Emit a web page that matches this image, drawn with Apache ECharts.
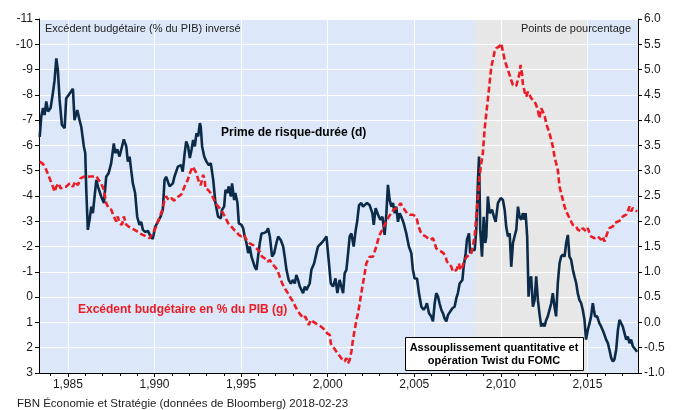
<!DOCTYPE html>
<html>
<head>
<meta charset="utf-8">
<script src="https://cdn.jsdelivr.net/npm/echarts@6/dist/echarts.min.js"></script>
<style>
  html, body { margin: 0; padding: 0; background: #fff; }
  #chart { width: 676px; height: 410px; }
</style>
</head>
<body>
<div id="chart"></div>
<script>
// x axis labels / ticks
const yearLabels = [1985, 1990, 1995, 2000, 2005, 2010, 2015];
const yearTicks = [1984, 1985, 1986, 1987, 1988, 1989, 1990, 1991, 1992, 1993, 1994, 1995, 1996,
  1997, 1998, 1999, 2000, 2001, 2002, 2003, 2004, 2005, 2006, 2007, 2008, 2009, 2010, 2011,
  2012, 2013, 2014, 2015, 2016, 2017];
const qeBand = [2008.5, 2014.92];

// Prime de risque-durée (points de %, axe de droite)
const termYears = [1983.37, 1983.46, 1983.56, 1983.65, 1983.75, 1983.85, 1984.00, 1984.13, 1984.23, 1984.33,
  1984.42, 1984.52, 1984.65, 1984.81, 1984.90, 1985.00, 1985.19, 1985.29, 1985.38, 1985.54,
  1985.67, 1985.77, 1985.92, 1986.00, 1986.06, 1986.15, 1986.25, 1986.35, 1986.44, 1986.54,
  1986.64, 1986.73, 1986.92, 1987.08, 1987.21, 1987.35, 1987.50, 1987.65, 1987.73, 1987.85,
  1987.98, 1988.08, 1988.23, 1988.37, 1988.46, 1988.56, 1988.65, 1988.75, 1988.88, 1989.00,
  1989.13, 1989.23, 1989.33, 1989.46, 1989.62, 1989.77, 1989.90, 1990.04, 1990.19, 1990.35,
  1990.48, 1990.58, 1990.67, 1990.87, 1990.96, 1991.06, 1991.15, 1991.35, 1991.54, 1991.63,
  1991.73, 1991.83, 1991.94, 1992.04, 1992.14, 1992.23, 1992.33, 1992.42, 1992.52, 1992.62,
  1992.67, 1992.75, 1992.87, 1993.00, 1993.14, 1993.25, 1993.39, 1993.52, 1993.67, 1993.83,
  1993.90, 1994.02, 1994.10, 1994.21, 1994.29, 1994.41, 1994.48, 1994.60, 1994.67, 1994.79,
  1994.87, 1995.02, 1995.12, 1995.21, 1995.31, 1995.41, 1995.50, 1995.60, 1995.79, 1995.89,
  1995.98, 1996.08, 1996.18, 1996.33, 1996.46, 1996.56, 1996.66, 1996.79, 1996.91, 1997.04,
  1997.14, 1997.29, 1997.43, 1997.52, 1997.62, 1997.75, 1997.87, 1998.00, 1998.10, 1998.19,
  1998.29, 1998.39, 1998.48, 1998.58, 1998.68, 1998.77, 1998.87, 1998.96, 1999.06, 1999.22,
  1999.35, 1999.44, 1999.64, 1999.79, 1999.93, 2000.02, 2000.18, 2000.31, 2000.45, 2000.56,
  2000.69, 2000.89, 2000.98, 2001.08, 2001.18, 2001.27, 2001.37, 2001.50, 2001.62, 2001.70,
  2001.81, 2001.94, 2002.04, 2002.14, 2002.27, 2002.42, 2002.58, 2002.66, 2002.77, 2002.91,
  2003.04, 2003.16, 2003.29, 2003.39, 2003.48, 2003.58, 2003.68, 2003.77, 2003.87, 2003.96,
  2004.06, 2004.16, 2004.25, 2004.39, 2004.54, 2004.69, 2004.83, 2004.92, 2005.02, 2005.16,
  2005.27, 2005.41, 2005.54, 2005.66, 2005.73, 2005.85, 2005.98, 2006.08, 2006.18, 2006.27,
  2006.37, 2006.46, 2006.56, 2006.66, 2006.75, 2006.85, 2006.95, 2007.04, 2007.20, 2007.33,
  2007.43, 2007.52, 2007.62, 2007.78, 2007.85, 2007.97, 2008.04, 2008.16, 2008.23, 2008.35,
  2008.49, 2008.58, 2008.68, 2008.74, 2008.81, 2008.91, 2009.01, 2009.10, 2009.16, 2009.25,
  2009.35, 2009.49, 2009.60, 2009.70, 2009.83, 2009.99, 2010.12, 2010.22, 2010.31, 2010.41,
  2010.51, 2010.60, 2010.70, 2010.79, 2010.89, 2010.99, 2011.08, 2011.18, 2011.27, 2011.37,
  2011.43, 2011.52, 2011.60, 2011.66, 2011.75, 2011.85, 2011.95, 2012.04, 2012.14, 2012.23,
  2012.33, 2012.43, 2012.52, 2012.62, 2012.71, 2012.81, 2012.91, 2013.00, 2013.10, 2013.19,
  2013.29, 2013.39, 2013.48, 2013.58, 2013.68, 2013.77, 2013.87, 2013.96, 2014.06, 2014.16,
  2014.25, 2014.35, 2014.44, 2014.54, 2014.64, 2014.73, 2014.83, 2014.92, 2015.02, 2015.12,
  2015.21, 2015.31, 2015.37, 2015.44, 2015.56, 2015.69, 2015.79, 2015.95, 2016.08, 2016.18,
  2016.27, 2016.37, 2016.47, 2016.56, 2016.66, 2016.76, 2016.85, 2016.95, 2017.04, 2017.14,
  2017.24, 2017.33, 2017.43, 2017.52, 2017.62, 2017.72, 2017.87];
const termValues = [3.67, 4.07, 4.24, 4.10, 4.37, 4.17, 4.24, 4.53, 4.79, 5.22,
  4.99, 4.40, 3.91, 3.84, 4.43, 4.45, 4.57, 4.62, 4.00, 4.20,
  4.00, 3.87, 3.48, 3.35, 2.62, 1.83, 2.03, 2.29, 2.16, 2.49,
  2.82, 2.69, 2.49, 2.36, 2.88, 2.95, 3.15, 3.54, 3.35, 3.42,
  3.28, 3.42, 3.62, 3.48, 3.18, 3.28, 3.02, 2.75, 2.56, 2.09,
  1.93, 1.99, 1.83, 1.79, 1.81, 1.70, 1.65, 1.89, 1.99, 2.09,
  2.23, 2.82, 2.88, 2.69, 2.69, 2.75, 2.88, 3.08, 3.11, 2.98,
  3.31, 3.58, 3.48, 3.25, 3.42, 3.61, 3.48, 3.74, 3.68, 3.94,
  3.87, 3.48, 3.28, 3.18, 3.11, 3.15, 2.82, 2.36, 2.09, 2.06,
  2.23, 2.29, 2.62, 2.56, 2.69, 2.49, 2.75, 2.42, 2.56, 2.36,
  1.96, 1.93, 1.86, 1.70, 1.57, 1.37, 1.50, 1.30, 1.10, 1.04,
  1.30, 1.57, 1.76, 1.77, 1.79, 1.86, 1.70, 1.30, 1.37, 1.57,
  1.70, 1.63, 1.50, 1.30, 1.04, 0.84, 0.77, 0.84, 0.77, 0.94,
  0.84, 0.71, 0.74, 0.58, 0.71, 0.64, 0.67, 0.77, 1.04, 1.17,
  1.37, 1.50, 1.57, 1.63, 1.70, 1.37, 0.77, 0.71, 0.87, 0.58,
  0.84, 0.58, 0.97, 1.04, 1.37, 1.70, 1.76, 1.50, 1.83, 1.99,
  2.32, 2.36, 2.29, 2.32, 2.36, 2.32, 2.16, 1.93, 2.26, 2.13,
  2.03, 2.09, 1.73, 2.16, 2.72, 2.42, 2.29, 2.36, 2.16, 2.29,
  1.99, 2.16, 2.09, 1.96, 1.76, 1.50, 1.37, 1.04, 0.87, 0.87,
  0.58, 0.31, 0.25, 0.31, 0.38, 0.18, 0.12, 0.02, 0.38, 0.58,
  0.51, 0.38, 0.25, 0.18, 0.08, 0.02, 0.15, 0.18, 0.28, 0.31,
  0.48, 0.58, 0.77, 0.84, 1.10, 1.37, 1.63, 1.76, 1.37, 1.44,
  1.43, 1.83, 2.82, 3.28, 1.83, 1.30, 2.09, 1.57, 1.70, 2.49,
  2.16, 2.23, 2.09, 1.99, 2.36, 2.46, 2.42, 2.23, 1.89, 1.70,
  1.76, 1.10, 1.57, 1.70, 1.83, 2.29, 2.09, 2.03, 2.16, 2.03,
  2.16, 1.70, 0.51, 0.84, 0.91, 0.31, 0.44, 0.91, 0.44, 0.18,
  -0.08, -0.02, -0.08, 0.05, 0.12, 0.12, 0.38, 0.58, 0.31, 0.12,
  0.78, 1.17, 1.30, 1.34, 1.30, 1.57, 1.73, 1.30, 1.24, 1.04,
  0.91, 0.78, 0.58, 0.44, 0.38, 0.25, 0.05, -0.34, -0.15, -0.02,
  0.12, 0.38, 0.25, 0.12, 0.12, -0.02, -0.08, -0.21, -0.34, -0.41,
  -0.54, -0.70, -0.77, -0.73, -0.54, -0.15, 0.05, 0.05, -0.08, -0.21,
  -0.34, -0.28, -0.41, -0.34, -0.47, -0.44, -0.58];

// Excédent budgétaire en % du PIB (axe de gauche, inversé)
const budgetYears = [1983.37, 1983.56, 1983.75, 1983.94, 1984.13, 1984.23, 1984.33, 1984.46, 1984.58, 1984.71,
  1984.90, 1985.10, 1985.29, 1985.42, 1985.58, 1985.73, 1985.92, 1986.06, 1986.25, 1986.44,
  1986.64, 1986.77, 1986.92, 1987.08, 1987.21, 1987.35, 1987.50, 1987.65, 1987.79, 1987.88,
  1987.98, 1988.12, 1988.23, 1988.37, 1988.50, 1988.65, 1988.85, 1989.00, 1989.13, 1989.33,
  1989.52, 1989.71, 1989.90, 1990.00, 1990.10, 1990.23, 1990.35, 1990.48, 1990.58, 1990.67,
  1990.81, 1990.96, 1991.12, 1991.25, 1991.39, 1991.54, 1991.73, 1991.92, 1992.08, 1992.21,
  1992.29, 1992.42, 1992.56, 1992.67, 1992.81, 1992.90, 1992.94, 1993.10, 1993.25, 1993.39,
  1993.52, 1993.67, 1993.83, 1993.96, 1994.10, 1994.25, 1994.44, 1994.60, 1994.73, 1994.87,
  1995.02, 1995.17, 1995.31, 1995.50, 1995.69, 1995.89, 1996.08, 1996.21, 1996.37, 1996.52,
  1996.66, 1996.79, 1996.94, 1997.10, 1997.23, 1997.37, 1997.52, 1997.71, 1997.87, 1998.00,
  1998.13, 1998.29, 1998.44, 1998.58, 1998.71, 1998.83, 1998.91, 1999.02, 1999.16, 1999.29,
  1999.44, 1999.60, 1999.73, 1999.83, 1999.98, 2000.12, 2000.18, 2000.25, 2000.37, 2000.50,
  2000.64, 2000.73, 2000.85, 2000.98, 2001.08, 2001.18, 2001.27, 2001.37, 2001.46, 2001.56,
  2001.66, 2001.75, 2001.85, 2001.94, 2002.04, 2002.14, 2002.23, 2002.33, 2002.42, 2002.52,
  2002.62, 2002.71, 2002.81, 2002.91, 2003.00, 2003.10, 2003.20, 2003.29, 2003.39, 2003.54,
  2003.68, 2003.81, 2003.96, 2004.10, 2004.21, 2004.31, 2004.44, 2004.58, 2004.73, 2004.93,
  2005.08, 2005.16, 2005.22, 2005.35, 2005.50, 2005.66, 2005.79, 2005.93, 2006.08, 2006.18,
  2006.27, 2006.43, 2006.56, 2006.70, 2006.81, 2006.89, 2007.00, 2007.14, 2007.23, 2007.33,
  2007.43, 2007.58, 2007.66, 2007.78, 2007.91, 2008.04, 2008.16, 2008.29, 2008.39, 2008.49,
  2008.58, 2008.68, 2008.77, 2008.87, 2008.96, 2009.06, 2009.16, 2009.25, 2009.35, 2009.45,
  2009.54, 2009.64, 2009.73, 2009.83, 2009.93, 2010.02, 2010.12, 2010.22, 2010.31, 2010.41,
  2010.51, 2010.60, 2010.70, 2010.79, 2010.89, 2010.99, 2011.08, 2011.14, 2011.22, 2011.27,
  2011.37, 2011.47, 2011.56, 2011.66, 2011.75, 2011.85, 2011.95, 2012.04, 2012.14, 2012.23,
  2012.33, 2012.43, 2012.52, 2012.62, 2012.71, 2012.81, 2012.91, 2013.00, 2013.10, 2013.19,
  2013.29, 2013.39, 2013.48, 2013.58, 2013.68, 2013.77, 2013.87, 2013.96, 2014.06, 2014.16,
  2014.25, 2014.35, 2014.44, 2014.54, 2014.64, 2014.73, 2014.83, 2014.92, 2015.02, 2015.12,
  2015.21, 2015.31, 2015.41, 2015.51, 2015.60, 2015.70, 2015.79, 2015.89, 2015.98, 2016.08,
  2016.18, 2016.27, 2016.37, 2016.47, 2016.56, 2016.66, 2016.76, 2016.85, 2016.95, 2017.04,
  2017.14, 2017.24, 2017.33, 2017.43, 2017.52, 2017.62, 2017.72, 2017.87];
const budgetValues = [-5.36, -5.27, -5.03, -4.70, -4.37, -4.17, -4.37, -4.50, -4.30, -4.37,
  -4.37, -4.50, -4.37, -4.57, -4.43, -4.70, -4.77, -4.74, -4.77, -4.77,
  -4.79, -4.64, -4.50, -4.24, -3.72, -3.52, -3.46, -3.19, -2.99, -3.19,
  -2.93, -2.86, -3.19, -2.86, -2.79, -2.73, -2.66, -2.60, -2.53, -2.46,
  -2.40, -2.33, -2.53, -2.66, -2.79, -3.06, -3.26, -3.52, -3.85, -3.99,
  -3.85, -3.92, -3.82, -3.88, -3.99, -4.05, -4.37, -4.64, -4.97, -5.16,
  -5.10, -4.90, -4.57, -4.43, -4.84, -4.64, -4.30, -4.24, -4.11, -3.92,
  -3.72, -3.59, -3.46, -3.32, -3.13, -2.93, -2.79, -2.66, -2.60, -2.46,
  -2.40, -2.46, -2.27, -2.13, -2.06, -1.93, -1.80, -1.60, -1.53, -1.40,
  -1.47, -1.33, -1.21, -1.07, -0.81, -0.55, -0.35, -0.15, 0.04, 0.17,
  0.37, 0.57, 0.70, 0.84, 0.77, 0.97, 1.10, 0.90, 0.97, 1.03,
  1.10, 1.16, 1.23, 1.29, 1.43, 1.49, 1.83, 1.76, 2.02, 2.15,
  2.28, 2.35, 2.48, 2.54, 2.41, 2.61, 2.48, 2.15, 1.69, 1.30,
  0.90, 0.64, 0.24, -0.15, -0.55, -0.95, -1.33, -1.47, -1.60, -1.53,
  -1.60, -1.80, -2.00, -2.27, -2.46, -2.53, -2.73, -2.86, -2.99, -3.19,
  -3.32, -3.46, -3.52, -3.59, -3.72, -3.59, -3.46, -3.32, -3.26, -3.26,
  -3.19, -3.06, -2.86, -2.60, -2.46, -2.40, -2.33, -2.27, -2.33, -2.13,
  -1.93, -1.86, -1.80, -1.73, -1.60, -1.40, -1.33, -1.21, -1.01, -1.07,
  -1.07, -1.33, -1.07, -1.21, -1.47, -1.60, -1.67, -1.73, -1.73, -2.40,
  -3.19, -3.98, -4.77, -5.30, -5.69, -6.61, -7.27, -7.80, -8.46, -9.11,
  -9.38, -9.71, -9.84, -9.88, -9.93, -10.04, -9.71, -9.38, -9.18, -8.98,
  -8.78, -8.58, -8.39, -8.32, -8.35, -8.32, -8.85, -9.18, -8.85, -8.45,
  -8.13, -7.93, -8.13, -8.00, -7.87, -7.80, -7.73, -7.60, -7.40, -7.07,
  -7.47, -7.40, -7.20, -6.87, -6.68, -6.48, -6.22, -5.96, -5.56, -5.30,
  -5.03, -4.37, -4.11, -3.85, -3.59, -3.39, -3.26, -3.19, -2.99, -2.86,
  -2.93, -2.80, -2.67, -2.73, -2.60, -2.73, -2.67, -2.60, -2.73, -2.53,
  -2.40, -2.47, -2.33, -2.27, -2.40, -2.33, -2.27, -2.40, -2.20, -2.40,
  -2.60, -2.73, -2.67, -2.80, -2.93, -2.86, -2.99, -3.06, -3.06, -3.19,
  -3.13, -3.26, -3.39, -3.59, -3.39, -3.52, -3.46, -3.39];

const FONT = "'Liberation Sans', Arial, sans-serif";
const termData = termYears.map((y, i) => [y, termValues[i]]);
const budgetData = budgetYears.map((y, i) => [y, budgetValues[i]]);

const chart = echarts.init(document.getElementById('chart'), null, { renderer: 'canvas' });

const option = {
  animation: false,
  backgroundColor: '#ffffff',
  textStyle: { fontFamily: FONT },
  grid: {
    left: 39, right: 38, top: 19, bottom: 37,
    show: true, backgroundColor: '#dce8f9', borderWidth: 0
  },
  xAxis: [
    {
      type: 'value', position: 'bottom', min: 1983.33, max: 2017.92, z: 3,
      axisLine: { show: true, onZero: false, lineStyle: { color: '#000', width: 1 } },
      axisTick: { show: true, customValues: yearLabels, length: 4, lineStyle: { color: '#000' } },
      axisLabel: { customValues: yearLabels, color: '#1a1a1a', fontSize: 12, margin: 6, fontFamily: FONT },
      splitLine: { show: true, lineStyle: { color: '#ffffff', width: 1 } }
    },
    {
      type: 'value', position: 'bottom', min: 1983.33, max: 2017.92, z: 3,
      axisLine: { show: false, onZero: false },
      axisTick: { show: true, customValues: yearTicks, length: 3, lineStyle: { color: '#000' } },
      axisLabel: { show: false },
      splitLine: { show: false }
    }
  ],
  yAxis: [
    {
      type: 'value', position: 'left', inverse: true, min: -11, max: 3, interval: 1, z: 3,
      axisLine: { show: true, onZero: false, lineStyle: { color: '#000', width: 1 } },
      axisTick: { show: true, length: 4, lineStyle: { color: '#000' } },
      axisLabel: { color: '#1a1a1a', fontSize: 12, margin: 6, fontFamily: FONT },
      splitLine: { show: true, lineStyle: { color: '#ffffff', width: 1 } }
    },
    {
      type: 'value', position: 'right', min: -1, max: 6, interval: 0.5, z: 3,
      axisLine: { show: true, onZero: false, lineStyle: { color: '#000', width: 1 } },
      axisTick: { show: true, length: 4, lineStyle: { color: '#000' } },
      axisLabel: { color: '#1a1a1a', fontSize: 12, margin: 6, fontFamily: FONT,
        formatter: v => v.toFixed(1) },
      splitLine: { show: false }
    }
  ],
  series: [
    {
      name: 'Prime de risque-durée (d)',
      type: 'line', xAxisIndex: 0, yAxisIndex: 1, z: 5,
      data: termData, showSymbol: false, symbol: 'none',
      lineStyle: { color: '#0c2b49', width: 2.6 },
      markArea: {
        silent: true, z: 1,
        itemStyle: { color: '#e7e7e7' },
        data: [[{ xAxis: qeBand[0] }, { xAxis: qeBand[1] }]]
      }
    },
    {
      name: 'Excédent budgétaire en % du PIB (g)',
      type: 'line', xAxisIndex: 0, yAxisIndex: 0, z: 6,
      data: budgetData, showSymbol: false, symbol: 'none',
      lineStyle: { color: '#ec1c24', width: 2.6, type: [6, 3] }
    }
  ],
  graphic: [
    { type: 'text', left: 45, top: 23, z: 100,
      style: { text: 'Excédent budgétaire (% du PIB) inversé', fill: '#222', font: '11px ' + FONT } },
    { type: 'text', right: 45, top: 23, z: 100,
      style: { text: 'Points de pourcentage', fill: '#222', font: '11px ' + FONT } },
    { type: 'text', left: 221, top: 127, z: 100,
      style: { text: 'Prime de risque-durée (d)', fill: '#000', font: 'bold 12px ' + FONT } },
    { type: 'text', left: 78, top: 304, z: 100,
      style: { text: 'Excédent budgétaire en % du PIB (g)', fill: '#ec1c24', font: 'bold 12px ' + FONT } },
    { type: 'rect', left: 405, top: 337, z: 100,
      shape: { width: 178, height: 33 },
      style: { fill: '#fff', stroke: '#000', lineWidth: 1 } },
    { type: 'text', x: 494, y: 341, z: 101,
      style: { text: 'Assouplissement quantitative et\nopération Twist du FOMC', fill: '#000',
        font: 'bold 11px ' + FONT, align: 'center', verticalAlign: 'top', lineHeight: 13 } },
    { type: 'text', left: 17, top: 398, z: 100,
      style: { text: 'FBN Économie et Stratégie (données de Bloomberg) 2018-02-23', fill: '#222',
        font: '11.5px ' + FONT } }
  ]
};

chart.setOption(option);
</script>
</body>
</html>
